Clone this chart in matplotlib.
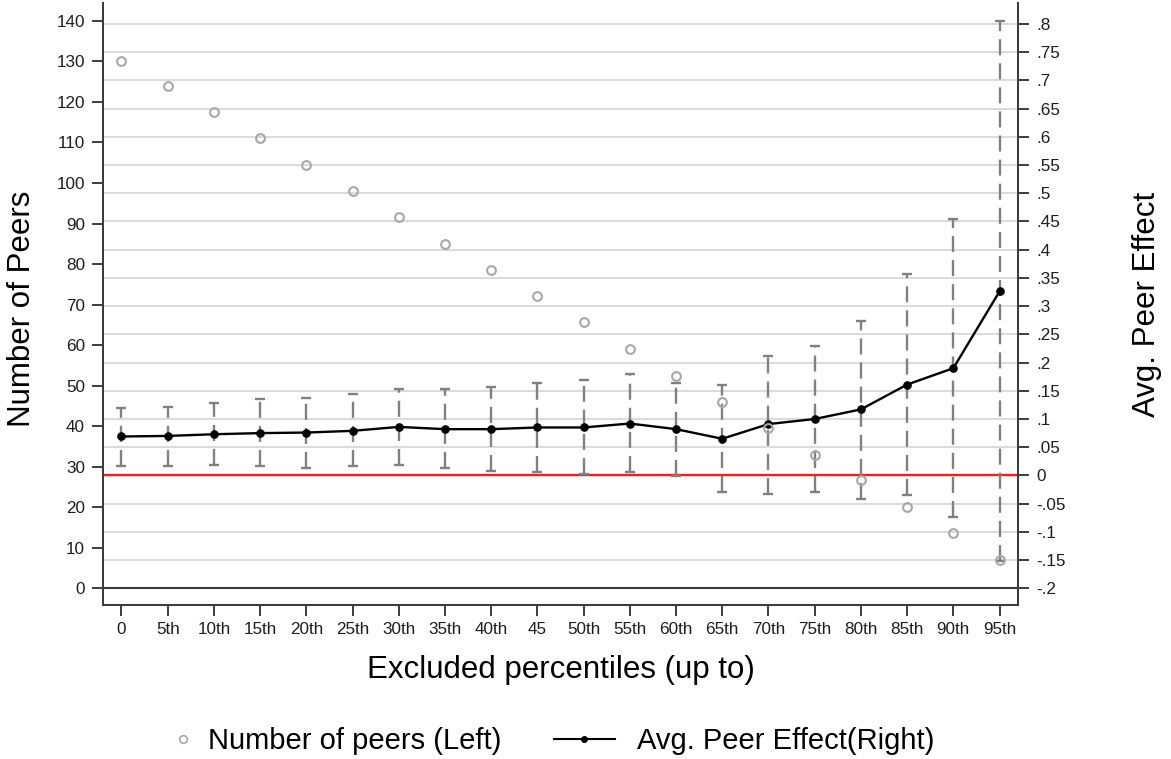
import matplotlib
matplotlib.use("Agg")
import matplotlib.pyplot as plt
from matplotlib.lines import Line2D
import numpy as np

plt.rcParams['font.family'] = ['Liberation Sans', 'DejaVu Sans']

# ---------------- data ----------------
categories = ["0", "5th", "10th", "15th", "20th", "25th", "30th", "35th", "40th", "45",
              "50th", "55th", "60th", "65th", "70th", "75th", "80th", "85th", "90th", "95th"]
num_peers = [130, 124, 117.5, 111, 104.5, 98, 91.5, 85, 78.5, 72,
             65.7, 59, 52.5, 46, 39.5, 33, 26.6, 20.1, 13.6, 7.0]
avg_effect = [0.069, 0.070, 0.073, 0.075, 0.076, 0.079, 0.086, 0.082, 0.082, 0.085,
              0.085, 0.092, 0.082, 0.065, 0.091, 0.100, 0.117, 0.161, 0.190, 0.326]
ci_high = [0.120, 0.122, 0.128, 0.135, 0.137, 0.144, 0.153, 0.153, 0.156, 0.163,
           0.169, 0.179, 0.164, 0.160, 0.212, 0.230, 0.274, 0.357, 0.454, 0.805]
ci_low = [0.017, 0.017, 0.019, 0.017, 0.014, 0.016, 0.019, 0.013, 0.008, 0.006,
          0.003, 0.006, -0.001, -0.029, -0.033, -0.030, -0.042, -0.035, -0.074, -0.152]
left_ticks = list(range(0, 141, 10))
right_ticks = [round(-0.2 + 0.05 * i, 2) for i in range(21)]

# ---------------- figure ----------------
W, H = 1171, 759
fig = plt.figure(figsize=(W / 100, H / 100), dpi=100)
ax1 = fig.add_axes([103 / W, 1 - 605 / H, (1018 - 103) / W, (605 - 3) / H])
ax2 = ax1.twinx()
ax1.set_zorder(ax2.get_zorder() + 1)
ax1.patch.set_visible(False)

x = np.arange(len(categories))

ax1.set_xlim(-0.4, len(categories) - 0.6)
ax1.set_ylim(-4.12, 144.4)
ax2.set_ylim(-0.2296, 0.8372)

spine_col = '#3c3c3c'
for ax in (ax1, ax2):
    ax.spines['top'].set_visible(False)
    for s in ('left', 'right', 'bottom'):
        ax.spines[s].set_color(spine_col)
        ax.spines[s].set_linewidth(1.4)

# grid (right axis)
ax2.set_yticks(right_ticks)
ax2.yaxis.grid(True, color='#d4d4d4', linewidth=1.2)
ax2.set_axisbelow(True)

def fmt(v):
    s = f"{v:.2f}".rstrip('0').rstrip('.')
    s = s.replace('-0.', '-.')
    if s.startswith('0.'):
        s = s[1:]
    if s == '-0':
        s = '0'
    return s

ax2.set_yticklabels([fmt(v) for v in right_ticks])

# reference lines
ax2.axhline(0, color='#ff1a1a', linewidth=1.7, zorder=2)
ax1.axhline(0, color='#3a3a3a', linewidth=1.5, zorder=1)

# confidence intervals
err_col = '#808080'
ax2.vlines(x, ci_low, ci_high, colors=err_col, linewidth=1.7,
           linestyles=[(0, (6.8, 3.4))], zorder=3)
ax2.plot(x, ci_high, ls='none', marker='_', ms=7.5, mew=1.7, color=err_col, zorder=3)
ax2.plot(x, ci_low, ls='none', marker='_', ms=7.5, mew=1.7, color=err_col, zorder=3)

# avg peer effect line
ax2.plot(x, avg_effect, color='black', linewidth=1.7, marker='o', ms=5.2, zorder=4)

# number of peers
ax1.plot(x, num_peers, ls='none', marker='o', ms=6.3, mfc='none',
         mec='#a8a8a8', mew=1.5, zorder=5)

# ticks
ax1.set_xticks(x)
ax1.set_xticklabels(categories)
ax1.set_yticks(left_ticks)
ax1.set_yticklabels([str(v) for v in left_ticks])
tick_col = '#1e1e1e'
ax1.tick_params(axis='x', length=8, width=1.4, color=spine_col, labelsize=12.3,
                labelcolor=tick_col, pad=4.5)
ax1.tick_params(axis='y', length=8, width=1.4, color=spine_col, labelsize=12.3,
                labelcolor=tick_col, pad=5)
ax2.tick_params(axis='y', length=8, width=1.4, color=spine_col, labelsize=12.3,
                labelcolor=tick_col, pad=5)

# labels
ax1.set_ylabel('Number of Peers', fontsize=22.5, va='center')
ax1.yaxis.set_label_coords((21.7 - 103) / 915, (605 - 309) / 602)
ax2.set_ylabel('Avg. Peer Effect', fontsize=22.5, va='center', rotation=90)
ax2.yaxis.set_label_coords((1146.7 - 103) / 915, (605 - 304) / 602)
ax1.set_xlabel('Excluded percentiles (up to)', fontsize=22.5, va='center')
ax1.xaxis.set_label_coords((561 - 103) / 915, (605 - 670) / 602)

# legend
fs_leg = 21
em = fs_leg * 100 / 72
h1 = Line2D([], [], ls='none', marker='o', ms=5.5, mfc='none', mec='#a8a8a8', mew=1.2)
h2 = Line2D([], [], color='black', linewidth=1.5, marker='o', ms=4)
yleg = 1 - 741 / H
leg1 = fig.legend([h1], ['Number of peers (Left)'], loc='center left',
                  bbox_to_anchor=((156.4 - 0.4 * em) / W, yleg), frameon=False,
                  fontsize=fs_leg, handlelength=0.8, handletextpad=0.46)
leg2 = fig.legend([h2], ['Avg. Peer Effect(Right)'], loc='center left',
                  bbox_to_anchor=((539 - 0.4 * em) / W, yleg), frameon=False,
                  fontsize=fs_leg, handlelength=2.1, handletextpad=0.76)

fig.savefig('out.png', dpi=100)
